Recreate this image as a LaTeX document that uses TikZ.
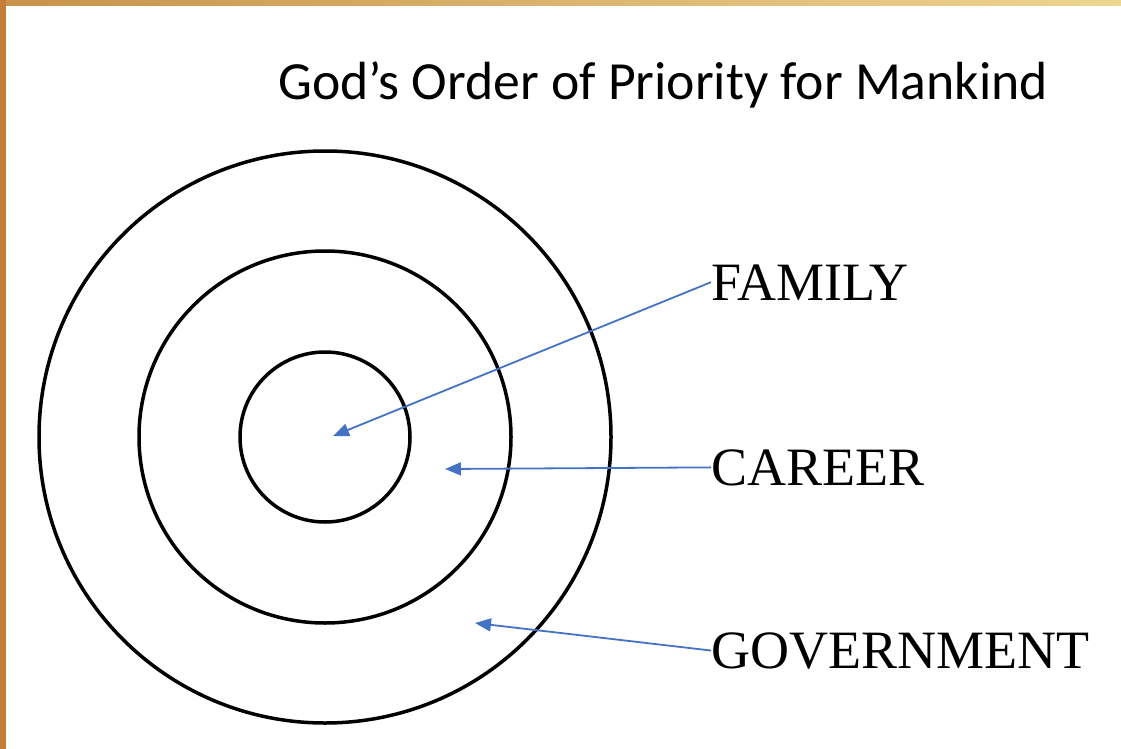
\documentclass[tikz,border=0pt]{standalone}
\usepackage{fontspec}
\setmainfont{Liberation Serif}
\newfontfamily\titlefont{Carlito}
\usetikzlibrary{arrows.meta}
\definecolor{arrowblue}{HTML}{4472C4}
\definecolor{bandtopL}{HTML}{C8934A}
\definecolor{bandtopR}{HTML}{EED592}
\definecolor{bandleft}{HTML}{C47D35}
\tikzset{
  ring/.style={draw=black, line width=3.5pt, circle, inner sep=0pt},
  label/.style={font=\fontsize{54}{60}\selectfont, anchor=base west, inner sep=0pt, text=black},
  pointer/.style={draw=arrowblue, line width=1.8pt, -{Triangle[length=16pt,width=13pt]}}
}
\begin{document}
\begin{tikzpicture}[x=1pt,y=-1pt]
\useasboundingbox (0,0) rectangle (1121,749);
\fill[white] (0,0) rectangle (1121,749);
\shade[left color=bandtopL, right color=bandtopR] (0,0) rectangle (1121,6);
\fill[bandleft] (0,0) rectangle (6,749);
\node[ring, minimum size=572pt] (outer) at (325,437) {};
\node[ring, minimum size=372pt] (middle) at (325,437) {};
\node[ring, minimum size=170pt] (inner) at (325,437) {};
\node[anchor=base west, inner sep=0pt, font=\titlefont\fontsize{53.7}{60}\selectfont] (title) at (278,100) {God’s Order of Priority for Mankind};
\node[label] (family) at (711,300) {FAMILY};
\node[label] (career) at (711,485) {CAREER};
\node[label] (government) at (711,668) {GOVERNMENT};
\coordinate (pf) at (333,436);
\coordinate (pc) at (445,469);
\coordinate (pg) at (475,623);
\draw[pointer] (family.west) -- (pf);
\draw[pointer] (career.west) -- (pc);
\draw[pointer] (government.west) -- (pg);
\end{tikzpicture}
\end{document}
